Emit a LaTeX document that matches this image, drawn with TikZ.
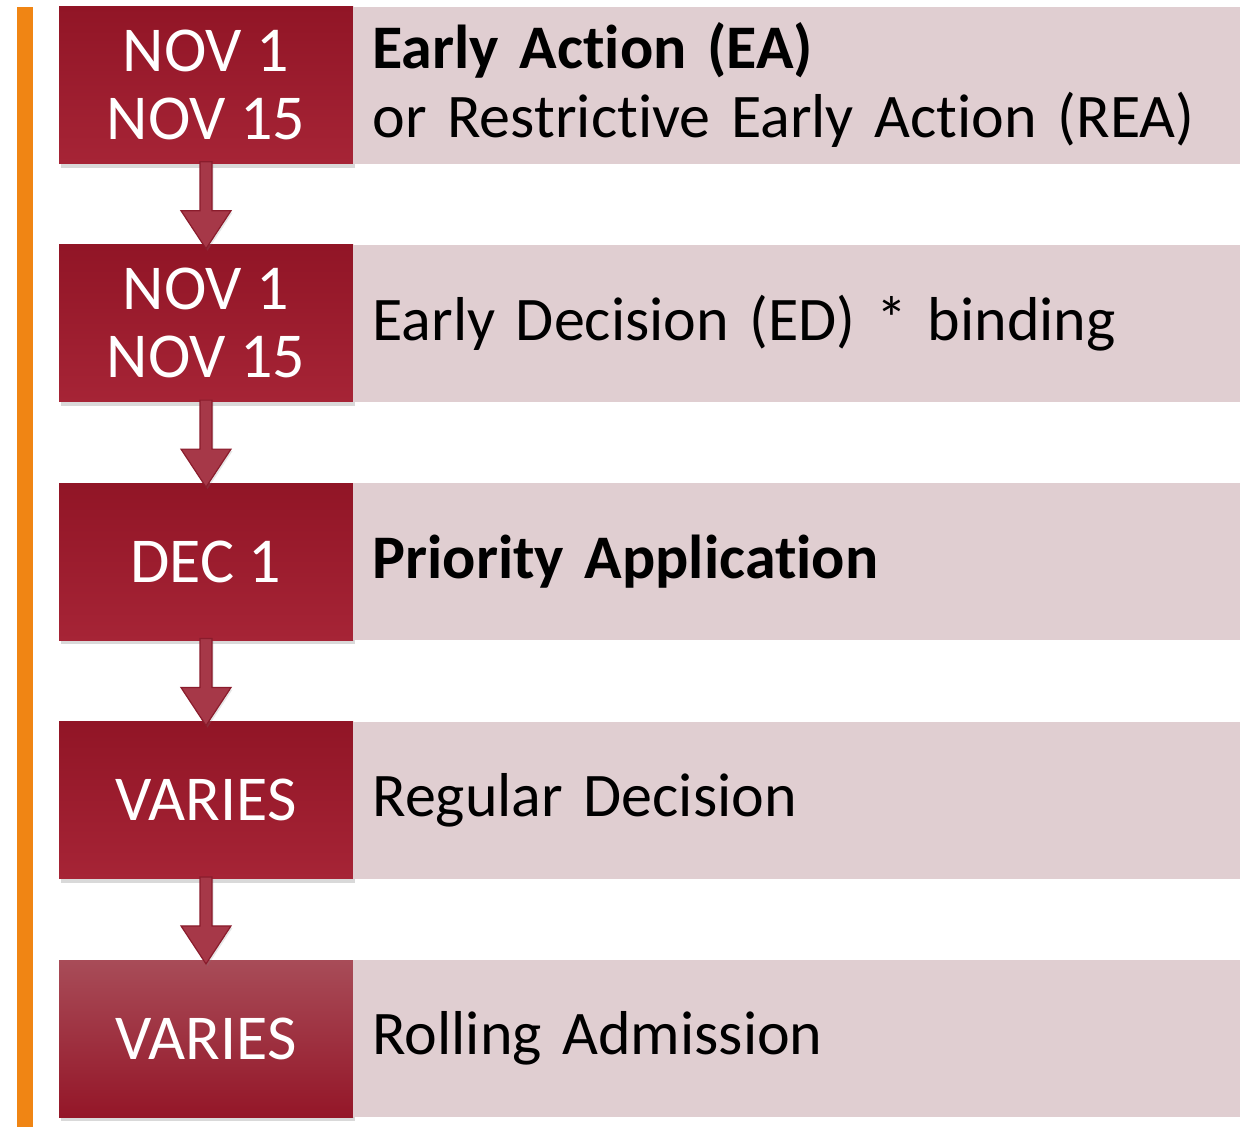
\documentclass[tikz,border=0pt]{standalone}
\usepackage{fontspec}
\setmainfont[Ligatures=NoCommon]{Carlito}
\usetikzlibrary{positioning}
\usetikzlibrary{calc}
\usetikzlibrary{shadows}
\definecolor{datetop}{RGB}{145,21,38}
\definecolor{datebot}{RGB}{166,36,54}
\definecolor{lasttop}{RGB}{168,76,88}
\definecolor{lastmid}{RGB}{165,28,48}
\definecolor{lastbot}{RGB}{148,22,40}
\definecolor{rowpink}{RGB}{224,206,209}
\definecolor{arrowred}{RGB}{166,56,72}
\definecolor{arrowedge}{RGB}{138,28,44}
\definecolor{barorange}{RGB}{240,133,20}
\newcommand{\rowfont}{\fontsize{62}{69}\selectfont\setlength{\spaceskip}{15pt}}
\newcommand{\flowarrow}[2]{%
  \draw[flowarrow] ($(#1.south)+(-6,-2)$) -- ($(#2.north)+(-6,-34)$) -- ($(#2.north)+(-25,-34)$)
    -- ($(#2.north)+(0,4)$) -- ($(#2.north)+(25,-34)$) -- ($(#2.north)+(6,-34)$)
    -- ($(#1.south)+(6,-2)$) -- cycle;}

\begin{document}
\begin{tikzpicture}[x=1pt,y=-1pt,
  datebox/.style={minimum width=294pt,minimum height=157pt,inner sep=0pt,align=center,
    text=white,font=\fontsize{64}{68}\selectfont,top color=datetop,bottom color=datebot,
    drop shadow={shadow xshift=2pt,shadow yshift=-4pt,opacity=.3}},
  lastbox/.style={datebox,top color=lasttop,middle color=lastmid,bottom color=lastbot},
  rowbox/.style={fill=rowpink,text width=849pt,inner xsep=19pt,inner ysep=0pt,
    minimum height=157pt,align=left,font=\rowfont},
  flowarrow/.style={fill=arrowred,draw=arrowedge,line width=1.2pt,line join=miter,
    drop shadow={shadow xshift=1.5pt,shadow yshift=-2pt,opacity=.2}}]
\useasboundingbox (0,0) rectangle (1245,1127);
\fill[barorange] (17,7) rectangle (33,1127);
\node[datebox] (d1) at (206,85) {NOV 1\\NOV 15};
\node[rowbox,right=0pt of d1] (r1) {\textbf{Early Action (EA)}\\or Restrictive Early Action (REA)};
\node[datebox,below=81pt of d1] (d2) {NOV 1\\NOV 15};
\node[rowbox,right=0pt of d2] (r2) {Early Decision (ED) * binding};
\node[datebox,below=81pt of d2] (d3) {DEC 1};
\node[rowbox,right=0pt of d3] (r3) {\textbf{Priority Application}};
\node[datebox,below=81pt of d3] (d4) {VARIES};
\node[rowbox,right=0pt of d4] (r4) {Regular Decision};
\node[lastbox,below=81pt of d4] (d5) {VARIES};
\node[rowbox,right=0pt of d5] (r5) {Rolling Admission};
\flowarrow{d1}{d2}
\flowarrow{d2}{d3}
\flowarrow{d3}{d4}
\flowarrow{d4}{d5}
\end{tikzpicture}
\end{document}
